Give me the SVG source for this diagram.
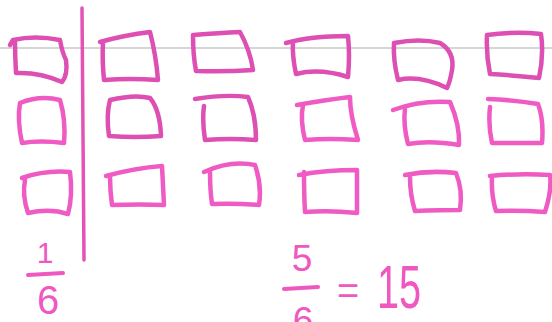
<svg xmlns="http://www.w3.org/2000/svg" width="552" height="322" viewBox="0 0 552 322">
<style>
.b{fill:none;stroke-width:4.5;stroke-linecap:round;stroke-linejoin:round}
.r1{stroke:#dd4fb3}
.r2{stroke:#f05ac3}
.t{fill:#ee58c0;font-family:"Liberation Sans",Arial,sans-serif}
.fl{stroke:#ee58c0;stroke-width:4;stroke-linecap:round}
</style>
<rect width="552" height="322" fill="#ffffff"/>
<line x1="0" y1="48" x2="552" y2="48" stroke="#c9c9c9" stroke-width="1.5"/>
<path d="M82,8 Q83,130 84,260" fill="none" stroke="#e452b6" stroke-width="3.5" stroke-linecap="round"/>
<g id="connectors"></g>
<g id="r1c1"><path class="b r1" d="M10,45 L13,40 Q35,35 60,40 Q62,52 66,60 Q68,75 62,82 Q40,72 16,73 Q15,55 15,40"/></g>
<g id="r1c2"><path class="b r1" d="M100,42 Q125,35 150,32 Q156,55 158,80 Q130,78 104,80 Q102,60 103,42"/></g>
<g id="r1c3"><path class="b r1" d="M193,35 Q220,33 240,32 Q250,50 253,70 Q225,72 196,71 Q193,55 193,35"/></g>
<g id="r1c4"><path class="b r1" d="M286,43 Q310,36 348,36 Q350,55 348,77 Q320,68 296,74 Q292,55 293,42"/></g>
<g id="r1c5"><path class="b r1" d="M394,43 Q420,38 440,43 Q455,52 452,70 Q450,82 447,88 Q420,75 398,80 Q393,60 394,43"/></g>
<g id="r1c6"><path class="b r1" d="M487,35 Q515,31 541,34 Q544,55 539,78 Q510,75 490,74 Q486,55 487,35"/></g>
<g id="r2c1"><path class="b r2" d="M20,103 Q40,95 60,100 Q66,120 64,143 Q40,140 22,143 Q17,120 20,103"/></g>
<g id="r2c2"><path class="b r1" d="M110,100 Q135,94 150,98 Q160,110 161,136 Q135,138 109,136 Q106,115 110,100"/></g>
<g id="r2c3"><path class="b r1" d="M195,99 Q225,94 248,97 Q256,115 256,140 Q230,138 205,140 Q202,120 204,106"/></g>
<g id="r2c4"><path class="b r2" d="M297,105 Q325,100 350,97 Q350,115 358,140 Q330,138 305,140 Q300,120 303,105"/></g>
<g id="r2c5"><path class="b r2" d="M393,110 Q420,100 450,102 Q460,125 459,145 Q430,140 408,144 Q403,125 405,108"/></g>
<g id="r2c6"><path class="b r2" d="M488,99 Q515,100 538,104 Q544,120 542,143 Q515,143 492,143 Q488,125 490,107"/></g>
<g id="r3c1"><path class="b r2" d="M22,178 Q45,170 70,172 Q73,195 68,214 Q50,208 28,213 Q22,195 25,180"/></g>
<g id="r3c2"><path class="b r2" d="M106,176 Q135,168 162,166 Q163,185 164,205 Q140,204 112,205 Q110,190 110,177"/></g>
<g id="r3c3"><path class="b r2" d="M204,172 Q230,160 255,165 Q262,185 259,205 Q235,203 212,204 Q210,190 210,172"/></g>
<g id="r3c4"><path class="b r2" d="M299,175 Q325,170 357,170 Q357,190 357,213 Q330,210 305,212 Q304,195 304,172"/></g>
<g id="r3c5"><path class="b r2" d="M405,175 Q430,170 456,173 Q463,190 460,210 Q440,210 415,211 Q410,195 410,177"/></g>
<g id="r3c6"><path class="b r2" d="M490,176 Q520,173 550,175 Q552,190 545,212 Q520,210 496,211 Q491,195 492,176"/></g>
<g id="frac1">
<text class="t" x="45" y="263" font-size="30" text-anchor="middle">1</text>
<line class="fl" x1="28" y1="275" x2="63" y2="273"/>
<text class="t" x="48" y="314" font-size="40" text-anchor="middle">6</text>
</g>
<g id="frac5">
<text class="t" x="302" y="271" font-size="37" text-anchor="middle">5</text>
<line class="fl" x1="284" y1="289" x2="318" y2="287"/>
<text class="t" x="303" y="333" font-size="37" text-anchor="middle">6</text>
<text class="t" x="348" y="304" font-size="38" text-anchor="middle">=</text>
<text class="t" transform="translate(377,308) scale(0.64,1)" x="0" y="0" font-size="62">15</text>
</g>
</svg>
